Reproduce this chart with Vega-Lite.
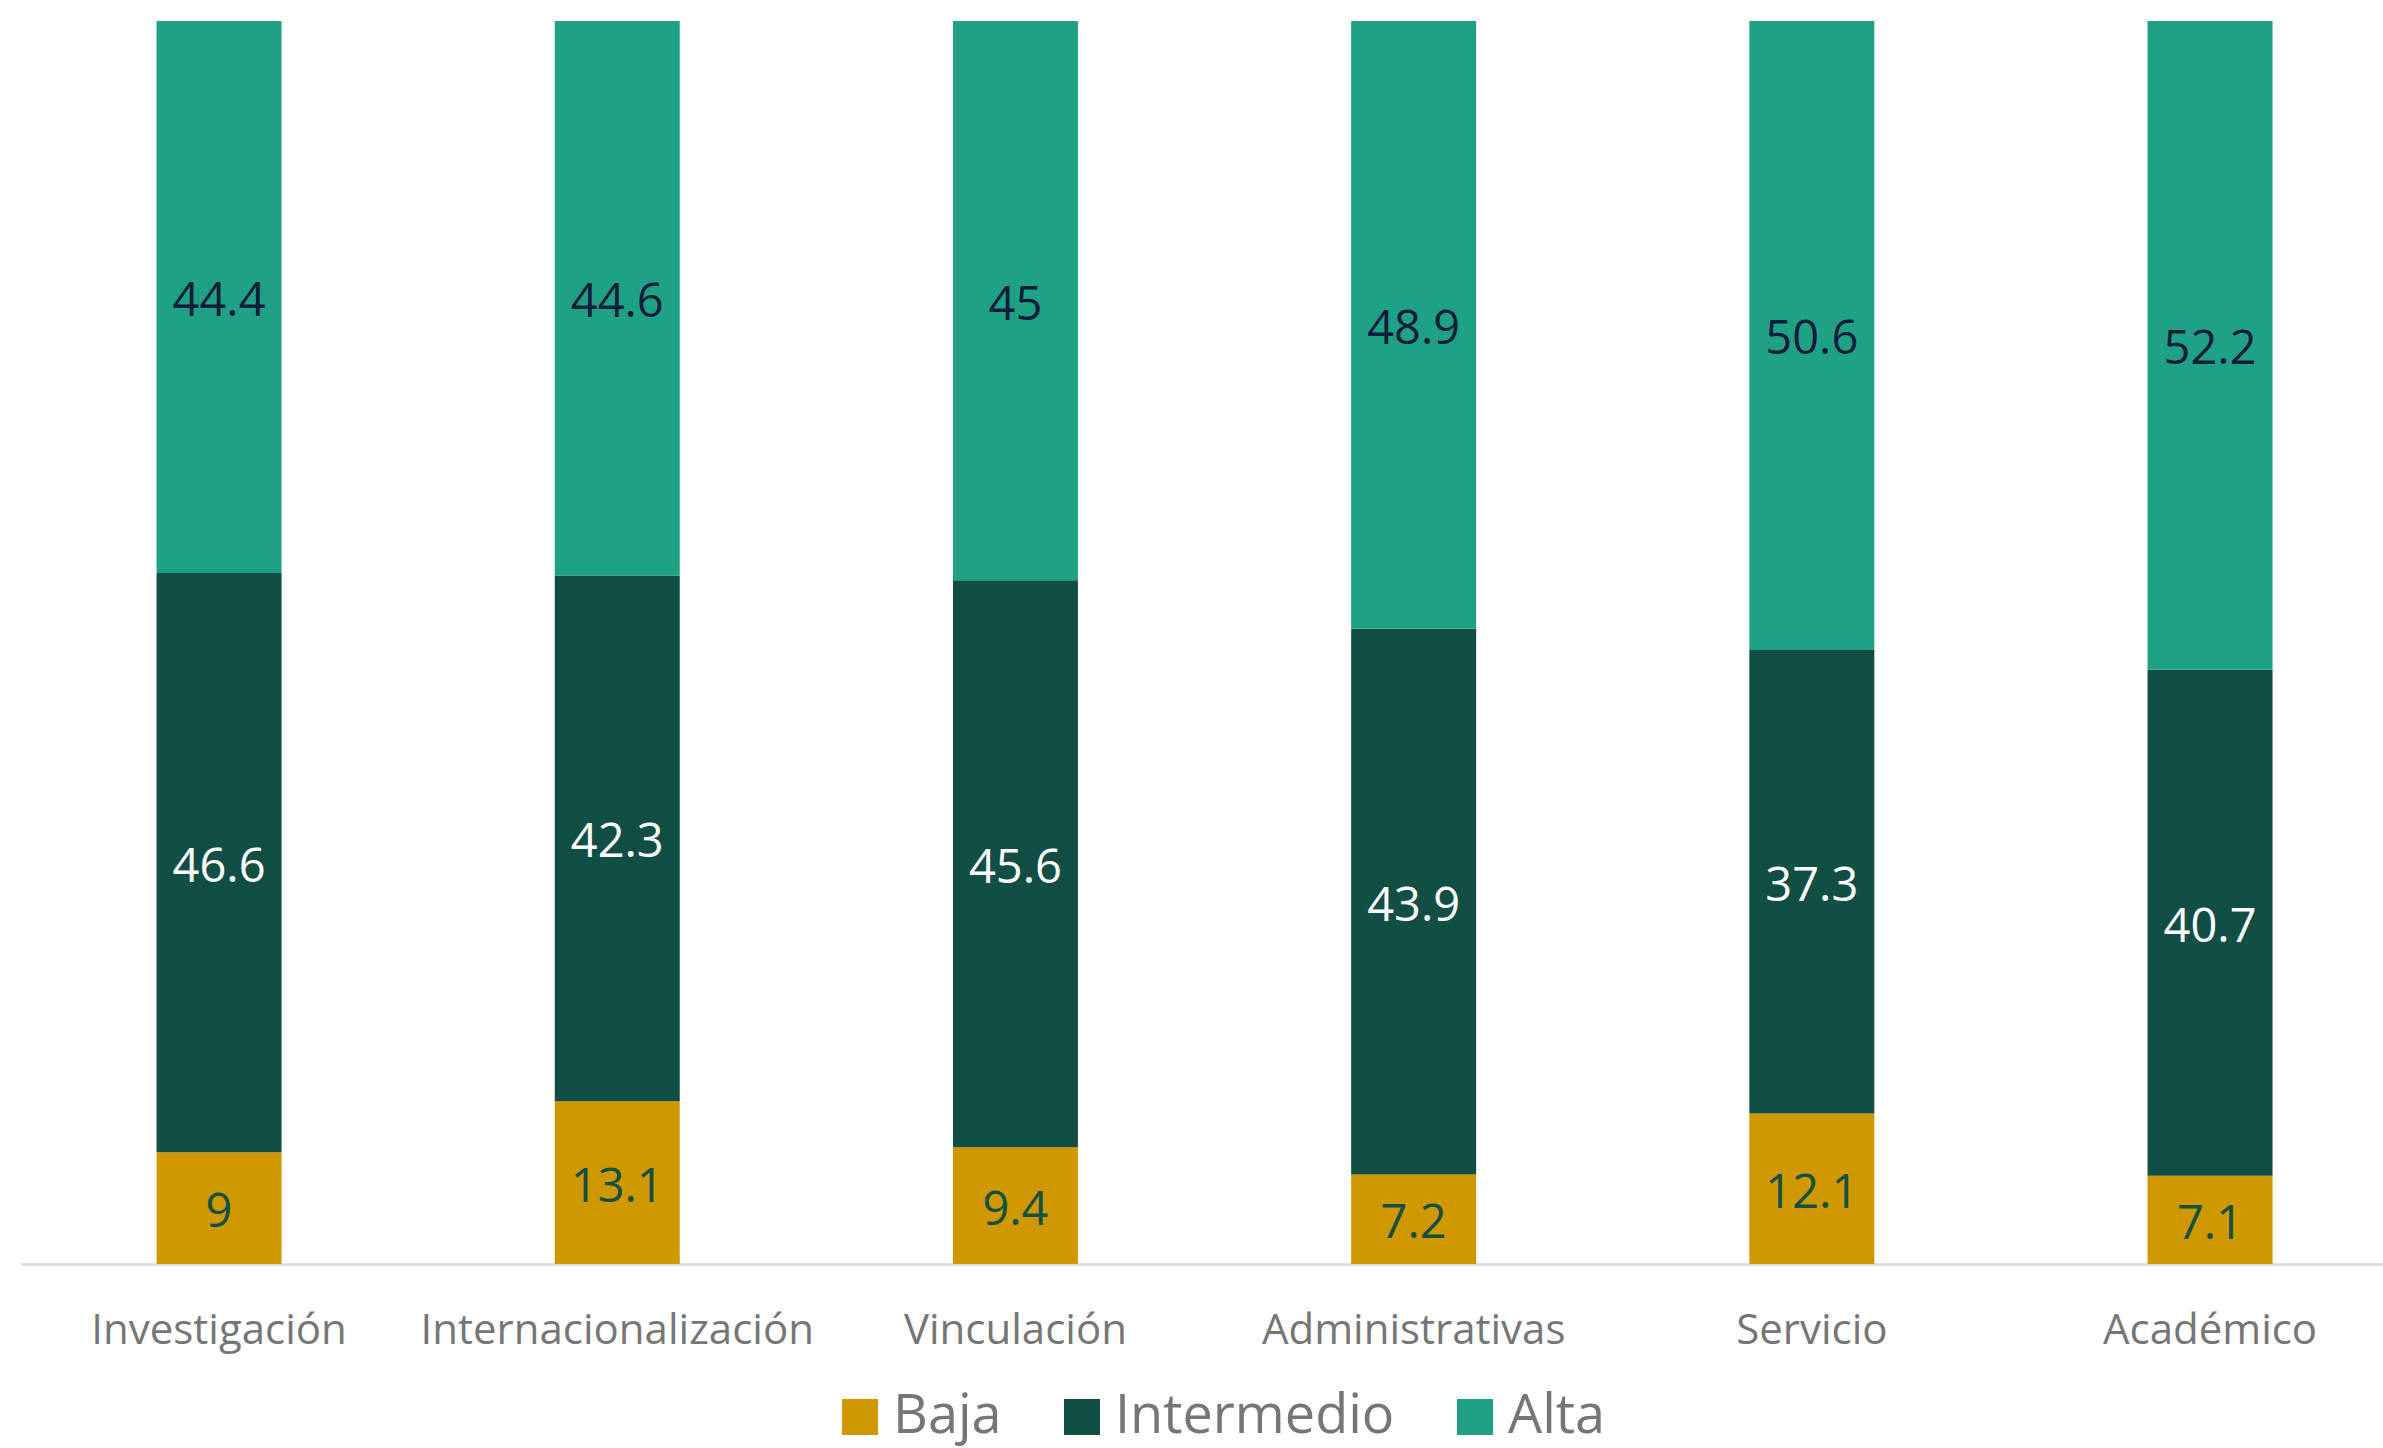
{
  "$schema": "https://vega.github.io/schema/vega-lite/v6.json",
  "autosize": {"type": "none"},
  "width": 2362,
  "height": 1243,
  "padding": {"left": 21, "top": 21, "right": 0, "bottom": 184},
  "background": "white",
  "config": {
    "view": {"stroke": null},
    "font": "Open Sans"
  },
  "data": {
    "values": [
      {"area": "Investigación", "nivel": "Baja", "valor": 9},
      {"area": "Investigación", "nivel": "Intermedio", "valor": 46.6},
      {"area": "Investigación", "nivel": "Alta", "valor": 44.4},
      {"area": "Internacionalización", "nivel": "Baja", "valor": 13.1},
      {"area": "Internacionalización", "nivel": "Intermedio", "valor": 42.3},
      {"area": "Internacionalización", "nivel": "Alta", "valor": 44.6},
      {"area": "Vinculación", "nivel": "Baja", "valor": 9.4},
      {"area": "Vinculación", "nivel": "Intermedio", "valor": 45.6},
      {"area": "Vinculación", "nivel": "Alta", "valor": 45},
      {"area": "Administrativas", "nivel": "Baja", "valor": 7.2},
      {"area": "Administrativas", "nivel": "Intermedio", "valor": 43.9},
      {"area": "Administrativas", "nivel": "Alta", "valor": 48.9},
      {"area": "Servicio", "nivel": "Baja", "valor": 12.1},
      {"area": "Servicio", "nivel": "Intermedio", "valor": 37.3},
      {"area": "Servicio", "nivel": "Alta", "valor": 50.6},
      {"area": "Académico", "nivel": "Baja", "valor": 7.1},
      {"area": "Académico", "nivel": "Intermedio", "valor": 40.7},
      {"area": "Académico", "nivel": "Alta", "valor": 52.2}
    ]
  },
  "transform": [
    {"calculate": "indexof(['Baja','Intermedio','Alta'], datum.nivel)", "as": "orden"},
    {"stack": "valor", "groupby": ["area"], "sort": [{"field": "orden", "order": "ascending"}], "as": ["v0", "v1"]},
    {"calculate": "(datum.v0 + datum.v1) / 2", "as": "vmid"}
  ],
  "encoding": {
    "x": {
      "field": "area",
      "type": "nominal",
      "sort": ["Investigación", "Internacionalización", "Vinculación", "Administrativas", "Servicio", "Académico"],
      "scale": {"paddingInner": 0.6861, "paddingOuter": 0.3089, "align": 0.551},
      "axis": {
        "title": null,
        "labelAngle": 0,
        "labelFont": "Open Sans",
        "labelFontSize": 42,
        "labelColor": "#767676",
        "labelPadding": 46,
        "labelLimit": 0,
        "ticks": false,
        "domainColor": "#d9d9d9",
        "domainWidth": 2.5,
        "grid": false
      }
    }
  },
  "layer": [
    {
      "mark": {"type": "bar", "stroke": null},
      "encoding": {
        "y": {"field": "v0", "type": "quantitative", "scale": {"domain": [0, 100], "nice": false}, "axis": null},
        "y2": {"field": "v1"},
        "color": {
          "field": "nivel",
          "type": "nominal",
          "scale": {"domain": ["Baja", "Intermedio", "Alta"], "range": ["#CF9700", "#114F45", "#1FA186"]},
          "legend": {
            "title": null,
            "orient": "none",
            "direction": "horizontal",
            "legendX": 812,
            "legendY": 1369,
            "symbolType": "square",
            "symbolSize": 1296,
            "symbolStrokeWidth": 0,
            "labelFont": "Open Sans",
            "labelFontSize": 54,
            "labelColor": "#767676",
            "labelOffset": 6,
            "columnPadding": 53,
            "padding": 0,
            "labelLimit": 0
          }
        }
      }
    },
    {
      "mark": {"type": "text", "font": "Open Sans", "fontSize": 47, "baseline": "middle", "align": "center", "dy": 5},
      "encoding": {
        "y": {"field": "vmid", "type": "quantitative"},
        "text": {"field": "valor", "type": "quantitative", "format": ".3~"},
        "color": {
          "field": "nivel",
          "type": "nominal",
          "scale": {"domain": ["Baja", "Intermedio", "Alta"], "range": ["#12503F", "#FFFFFF", "#0E1D3A"]},
          "legend": null
        }
      }
    }
  ],
  "resolve": {"scale": {"color": "independent"}}
}
